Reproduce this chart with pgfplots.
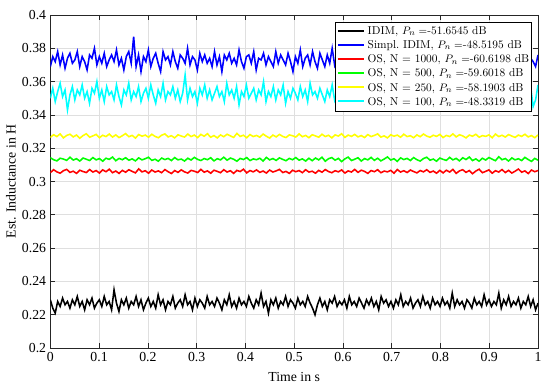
\documentclass[border=0pt]{standalone}
\usepackage{fontspec}
\usepackage{pgfplots}
\usepackage{pgfplotstable}
\pgfplotsset{compat=1.18}
\newfontfamily\timesfont{Liberation Serif}
\definecolor{mblue}{rgb}{0,0,1}
\definecolor{mred}{rgb}{1,0,0}
\definecolor{mgreen}{rgb}{0,1,0}
\definecolor{myellow}{rgb}{1,1,0}
\definecolor{mcyan}{rgb}{0,1,1}
\newcommand\legline[1]{\textcolor{#1}{\rule[2.4pt]{22pt}{1.8pt}}}

\pgfplotstableread[row sep=\\, header=false]{
0.229\\0.224\\0.221\\0.228\\0.225\\0.230\\0.226\\0.228\\0.224\\0.229\\
0.226\\0.231\\0.225\\0.228\\0.223\\0.229\\0.226\\0.230\\0.224\\0.227\\
0.229\\0.225\\0.231\\0.226\\0.228\\0.223\\0.235\\0.227\\0.222\\0.229\\
0.226\\0.230\\0.224\\0.228\\0.226\\0.231\\0.225\\0.229\\0.223\\0.227\\
0.230\\0.225\\0.228\\0.224\\0.232\\0.226\\0.229\\0.223\\0.228\\0.226\\
0.231\\0.224\\0.227\\0.229\\0.225\\0.232\\0.226\\0.228\\0.223\\0.230\\
0.225\\0.229\\0.227\\0.224\\0.231\\0.226\\0.228\\0.225\\0.230\\0.227\\
0.223\\0.229\\0.226\\0.232\\0.225\\0.228\\0.224\\0.230\\0.226\\0.228\\
0.225\\0.231\\0.227\\0.224\\0.229\\0.226\\0.233\\0.225\\0.228\\0.221\\
0.229\\0.226\\0.230\\0.224\\0.228\\0.226\\0.231\\0.225\\0.229\\0.227\\
0.224\\0.230\\0.226\\0.228\\0.225\\0.231\\0.227\\0.224\\0.220\\0.226\\
0.230\\0.225\\0.228\\0.223\\0.229\\0.227\\0.231\\0.225\\0.228\\0.226\\
0.229\\0.224\\0.231\\0.226\\0.228\\0.225\\0.230\\0.227\\0.224\\0.229\\
0.226\\0.230\\0.225\\0.228\\0.223\\0.231\\0.227\\0.229\\0.225\\0.228\\
0.224\\0.229\\0.226\\0.232\\0.225\\0.228\\0.226\\0.230\\0.224\\0.227\\
0.229\\0.225\\0.231\\0.226\\0.228\\0.224\\0.230\\0.226\\0.228\\0.225\\
0.230\\0.226\\0.228\\0.224\\0.233\\0.225\\0.229\\0.226\\0.228\\0.224\\
0.229\\0.227\\0.224\\0.230\\0.226\\0.228\\0.225\\0.232\\0.226\\0.229\\
0.225\\0.228\\0.226\\0.233\\0.224\\0.229\\0.226\\0.231\\0.225\\0.228\\
0.226\\0.230\\0.224\\0.228\\0.226\\0.231\\0.225\\0.229\\0.223\\0.227\\
}\tblack

\pgfplotstableread[row sep=\\, header=false]{
0.369\\0.375\\0.372\\0.378\\0.370\\0.376\\0.368\\0.374\\0.377\\0.371\\
0.373\\0.378\\0.369\\0.375\\0.372\\0.367\\0.376\\0.374\\0.380\\0.370\\
0.375\\0.371\\0.377\\0.369\\0.373\\0.376\\0.372\\0.379\\0.370\\0.374\\
0.367\\0.375\\0.378\\0.371\\0.387\\0.369\\0.376\\0.366\\0.375\\0.372\\
0.379\\0.369\\0.374\\0.377\\0.371\\0.366\\0.378\\0.373\\0.375\\0.370\\
0.378\\0.372\\0.368\\0.376\\0.374\\0.371\\0.380\\0.370\\0.375\\0.373\\
0.367\\0.377\\0.372\\0.376\\0.371\\0.374\\0.369\\0.378\\0.370\\0.375\\
0.366\\0.376\\0.373\\0.377\\0.371\\0.374\\0.370\\0.379\\0.372\\0.368\\
0.375\\0.376\\0.371\\0.378\\0.367\\0.374\\0.373\\0.377\\0.370\\0.375\\
0.372\\0.369\\0.378\\0.371\\0.376\\0.373\\0.370\\0.377\\0.372\\0.366\\
0.375\\0.371\\0.379\\0.369\\0.374\\0.376\\0.370\\0.378\\0.372\\0.368\\
0.377\\0.373\\0.369\\0.376\\0.371\\0.380\\0.370\\0.375\\0.372\\0.367\\
0.376\\0.374\\0.370\\0.378\\0.372\\0.375\\0.369\\0.377\\0.371\\0.374\\
0.368\\0.376\\0.373\\0.379\\0.370\\0.374\\0.371\\0.377\\0.366\\0.375\\
0.372\\0.378\\0.370\\0.374\\0.377\\0.369\\0.375\\0.371\\0.376\\0.373\\
0.368\\0.377\\0.372\\0.379\\0.370\\0.374\\0.376\\0.371\\0.378\\0.369\\
0.374\\0.372\\0.377\\0.370\\0.375\\0.367\\0.376\\0.373\\0.379\\0.371\\
0.375\\0.369\\0.378\\0.372\\0.374\\0.370\\0.377\\0.368\\0.376\\0.373\\
0.371\\0.378\\0.370\\0.375\\0.372\\0.380\\0.369\\0.374\\0.377\\0.371\\
0.376\\0.368\\0.375\\0.373\\0.378\\0.370\\0.374\\0.372\\0.369\\0.376\\
}\tblue

\pgfplotstableread[row sep=\\, header=false]{
0.350\\0.356\\0.348\\0.354\\0.359\\0.351\\0.355\\0.343\\0.352\\0.357\\
0.349\\0.355\\0.352\\0.358\\0.350\\0.354\\0.347\\0.356\\0.353\\0.360\\
0.350\\0.355\\0.348\\0.357\\0.352\\0.354\\0.349\\0.358\\0.351\\0.346\\
0.355\\0.352\\0.359\\0.349\\0.354\\0.351\\0.357\\0.348\\0.353\\0.356\\
0.350\\0.358\\0.352\\0.347\\0.355\\0.351\\0.359\\0.349\\0.354\\0.352\\
0.357\\0.350\\0.355\\0.348\\0.353\\0.364\\0.349\\0.356\\0.351\\0.354\\
0.347\\0.356\\0.352\\0.358\\0.350\\0.355\\0.349\\0.353\\0.357\\0.351\\
0.354\\0.348\\0.359\\0.352\\0.355\\0.350\\0.357\\0.346\\0.354\\0.351\\
0.358\\0.350\\0.353\\0.356\\0.349\\0.355\\0.352\\0.360\\0.348\\0.354\\
0.351\\0.357\\0.349\\0.355\\0.352\\0.358\\0.347\\0.354\\0.350\\0.356\\
0.353\\0.349\\0.357\\0.351\\0.355\\0.348\\0.359\\0.352\\0.354\\0.350\\
0.356\\0.352\\0.348\\0.355\\0.351\\0.358\\0.349\\0.354\\0.352\\0.357\\
0.350\\0.355\\0.353\\0.359\\0.348\\0.354\\0.351\\0.356\\0.345\\0.355\\
0.352\\0.357\\0.350\\0.354\\0.349\\0.361\\0.351\\0.355\\0.353\\0.348\\
0.356\\0.351\\0.354\\0.358\\0.349\\0.353\\0.350\\0.357\\0.352\\0.355\\
0.348\\0.356\\0.353\\0.351\\0.358\\0.350\\0.354\\0.349\\0.357\\0.352\\
0.355\\0.350\\0.359\\0.352\\0.354\\0.347\\0.356\\0.351\\0.355\\0.353\\
0.349\\0.357\\0.352\\0.355\\0.350\\0.358\\0.351\\0.354\\0.348\\0.356\\
0.352\\0.355\\0.349\\0.357\\0.353\\0.350\\0.356\\0.352\\0.359\\0.351\\
0.354\\0.348\\0.356\\0.351\\0.355\\0.350\\0.357\\0.345\\0.349\\0.358\\
}\tcyan

\pgfplotstableread[row sep=\\, header=false]{
0.3265\\0.3281\\0.3270\\0.3286\\0.3262\\0.3277\\0.3284\\0.3268\\0.3279\\0.3260\\
0.3276\\0.3287\\0.3266\\0.3274\\0.3283\\0.3263\\0.3278\\0.3270\\0.3285\\0.3267\\
0.3280\\0.3264\\0.3275\\0.3288\\0.3269\\0.3277\\0.3261\\0.3282\\0.3272\\0.3279\\
0.3266\\0.3284\\0.3271\\0.3263\\0.3278\\0.3286\\0.3268\\0.3275\\0.3262\\0.3281\\
0.3273\\0.3267\\0.3285\\0.3270\\0.3279\\0.3264\\0.3283\\0.3272\\0.3287\\0.3266\\
0.3276\\0.3262\\0.3280\\0.3269\\0.3284\\0.3274\\0.3265\\0.3289\\0.3271\\0.3278\\
0.3263\\0.3282\\0.3270\\0.3277\\0.3266\\0.3285\\0.3272\\0.3261\\0.3279\\0.3268\\
0.3283\\0.3271\\0.3264\\0.3280\\0.3275\\0.3267\\0.3286\\0.3269\\0.3277\\0.3263\\
0.3281\\0.3274\\0.3266\\0.3284\\0.3270\\0.3278\\0.3262\\0.3280\\0.3273\\0.3287\\
0.3265\\0.3279\\0.3271\\0.3283\\0.3268\\0.3276\\0.3264\\0.3282\\0.3270\\0.3277\\
0.3286\\0.3267\\0.3274\\0.3262\\0.3281\\0.3272\\0.3279\\0.3266\\0.3284\\0.3270\\
0.3275\\0.3263\\0.3280\\0.3269\\0.3285\\0.3273\\0.3266\\0.3278\\0.3271\\0.3283\\
0.3264\\0.3277\\0.3270\\0.3286\\0.3268\\0.3281\\0.3274\\0.3262\\0.3279\\0.3272\\
0.3284\\0.3266\\0.3276\\0.3271\\0.3280\\0.3263\\0.3285\\0.3270\\0.3278\\0.3267\\
0.3282\\0.3273\\0.3265\\0.3279\\0.3271\\0.3284\\0.3268\\0.3276\\0.3263\\0.3280\\
}\tyellow

\pgfplotstableread[row sep=\\, header=false]{
0.3143\\0.3131\\0.3124\\0.3140\\0.3135\\0.3127\\0.3146\\0.3129\\0.3137\\0.3123\\
0.3141\\0.3134\\0.3126\\0.3144\\0.3130\\0.3138\\0.3122\\0.3140\\0.3133\\0.3147\\
0.3125\\0.3139\\0.3131\\0.3143\\0.3128\\0.3136\\0.3124\\0.3142\\0.3130\\0.3137\\
0.3146\\0.3127\\0.3134\\0.3122\\0.3141\\0.3132\\0.3139\\0.3126\\0.3144\\0.3130\\
0.3135\\0.3123\\0.3140\\0.3129\\0.3145\\0.3133\\0.3126\\0.3138\\0.3131\\0.3143\\
0.3124\\0.3137\\0.3130\\0.3146\\0.3128\\0.3141\\0.3134\\0.3122\\0.3139\\0.3132\\
0.3144\\0.3126\\0.3136\\0.3131\\0.3140\\0.3123\\0.3145\\0.3130\\0.3138\\0.3127\\
0.3142\\0.3133\\0.3125\\0.3139\\0.3131\\0.3144\\0.3128\\0.3136\\0.3123\\0.3140\\
0.3125\\0.3141\\0.3130\\0.3146\\0.3122\\0.3137\\0.3144\\0.3128\\0.3139\\0.3120\\
0.3136\\0.3147\\0.3126\\0.3134\\0.3143\\0.3123\\0.3138\\0.3130\\0.3145\\0.3127\\
0.3140\\0.3124\\0.3135\\0.3148\\0.3129\\0.3137\\0.3121\\0.3142\\0.3132\\0.3139\\
0.3126\\0.3144\\0.3131\\0.3123\\0.3138\\0.3146\\0.3128\\0.3135\\0.3122\\0.3141\\
0.3133\\0.3127\\0.3145\\0.3130\\0.3139\\0.3124\\0.3143\\0.3132\\0.3147\\0.3126\\
0.3136\\0.3122\\0.3140\\0.3129\\0.3144\\0.3134\\0.3125\\0.3149\\0.3131\\0.3138\\
0.3123\\0.3142\\0.3130\\0.3137\\0.3126\\0.3145\\0.3132\\0.3121\\0.3139\\0.3128\\
}\tgreen

\pgfplotstableread[row sep=\\, header=false]{
0.3053\\0.3071\\0.3058\\0.3050\\0.3065\\0.3073\\0.3055\\0.3062\\0.3049\\0.3068\\
0.3060\\0.3054\\0.3072\\0.3057\\0.3066\\0.3051\\0.3070\\0.3059\\0.3074\\0.3053\\
0.3063\\0.3049\\0.3067\\0.3056\\0.3071\\0.3061\\0.3052\\0.3076\\0.3058\\0.3065\\
0.3050\\0.3069\\0.3057\\0.3064\\0.3053\\0.3072\\0.3059\\0.3048\\0.3066\\0.3055\\
0.3070\\0.3058\\0.3051\\0.3067\\0.3062\\0.3054\\0.3073\\0.3056\\0.3064\\0.3050\\
0.3068\\0.3061\\0.3053\\0.3071\\0.3057\\0.3065\\0.3049\\0.3067\\0.3060\\0.3074\\
0.3052\\0.3066\\0.3058\\0.3070\\0.3055\\0.3063\\0.3051\\0.3069\\0.3057\\0.3064\\
0.3073\\0.3054\\0.3061\\0.3049\\0.3068\\0.3059\\0.3066\\0.3053\\0.3071\\0.3057\\
0.3062\\0.3050\\0.3067\\0.3056\\0.3072\\0.3060\\0.3053\\0.3065\\0.3058\\0.3070\\
0.3051\\0.3064\\0.3057\\0.3073\\0.3055\\0.3068\\0.3061\\0.3049\\0.3066\\0.3059\\
0.3071\\0.3053\\0.3063\\0.3058\\0.3067\\0.3050\\0.3072\\0.3057\\0.3065\\0.3054\\
0.3069\\0.3060\\0.3052\\0.3066\\0.3058\\0.3071\\0.3055\\0.3063\\0.3050\\0.3067\\
0.3052\\0.3068\\0.3057\\0.3073\\0.3049\\0.3064\\0.3071\\0.3055\\0.3066\\0.3047\\
0.3063\\0.3074\\0.3053\\0.3061\\0.3070\\0.3050\\0.3065\\0.3057\\0.3072\\0.3054\\
0.3067\\0.3051\\0.3062\\0.3075\\0.3056\\0.3064\\0.3048\\0.3069\\0.3059\\0.3066\\
}\tred

\begin{document}
\begin{tikzpicture}
\begin{axis}[
  scale only axis,
  width=407pt, height=278pt,
  xmin=0, xmax=1, ymin=0.2, ymax=0.4,
  xtick={0,0.1,0.2,0.3,0.4,0.5,0.6,0.7,0.8,0.9,1},
  ytick={0.2,0.22,0.24,0.26,0.28,0.3,0.32,0.34,0.36,0.38,0.4},
  yticklabel style={/pgf/number format/fixed,/pgf/number format/precision=2},
  xticklabel style={/pgf/number format/fixed,/pgf/number format/precision=1},
  /pgf/number format/assume math mode=true,
  tick label style={font=\timesfont\fontsize{11.5}{13}\selectfont},
  label style={font=\timesfont\fontsize{11.5}{13}\selectfont},
  xlabel={Time in s},
  ylabel={Est. Inductance in H},
  xlabel style={at={(axis description cs:0.5,-0.088)}, anchor=center},
  ylabel style={at={(axis description cs:-0.081,0.5)}, anchor=center},
  grid=major,
  major grid style={draw=gray!25, line width=0.6pt},
  axis line style={draw=black!85, line width=0.6pt},
  tick style={draw=black!85, line width=0.6pt},
  tick align=inside,
  major tick length=4pt,
]
\addplot[draw=black, line width=1.3pt] table[x expr=\coordindex/199, y index=0]{\tblack};
\addplot[draw=mblue, line width=1.3pt] table[x expr=\coordindex/199, y index=0]{\tblue};
\addplot[draw=mred, line width=1.3pt] table[x expr=\coordindex/149, y index=0]{\tred};
\addplot[draw=mgreen, line width=1.3pt] table[x expr=\coordindex/149, y index=0]{\tgreen};
\addplot[draw=myellow, line width=1.3pt] table[x expr=\coordindex/149, y index=0]{\tyellow};
\addplot[draw=mcyan, line width=1.3pt] table[x expr=\coordindex/199, y index=0]{\tcyan};
\node[anchor=north east, draw=black, line width=0.8pt, fill=white,
      inner sep=2pt, xshift=-5pt, yshift=-5.8pt,
      font=\fontsize{9.5}{11}\selectfont]
  at (axis description cs:1,1) {%
  \def\arraystretch{1.07}%
  \begin{tabular}{@{}l@{\hspace{3pt}}l@{}}
  \legline{black} & IDIM, $P_n=$-51.6545 dB\\
  \legline{mblue} & Simpl.\ IDIM, $P_n=$-48.5195 dB\\
  \legline{mred} & OS, N = 1000, $P_n=$-60.6198 dB\\
  \legline{mgreen} & OS, N = 500, $P_n=$-59.6018 dB\\
  \legline{myellow} & OS, N = 250, $P_n=$-58.1903 dB\\
  \legline{mcyan} & OS, N = 100, $P_n=$-48.3319 dB
  \end{tabular}};
\end{axis}
\path (current axis.south west) ++(-42pt,-34pt);
\path (current axis.north east) ++(10pt,12.5pt);
\end{tikzpicture}
\end{document}
